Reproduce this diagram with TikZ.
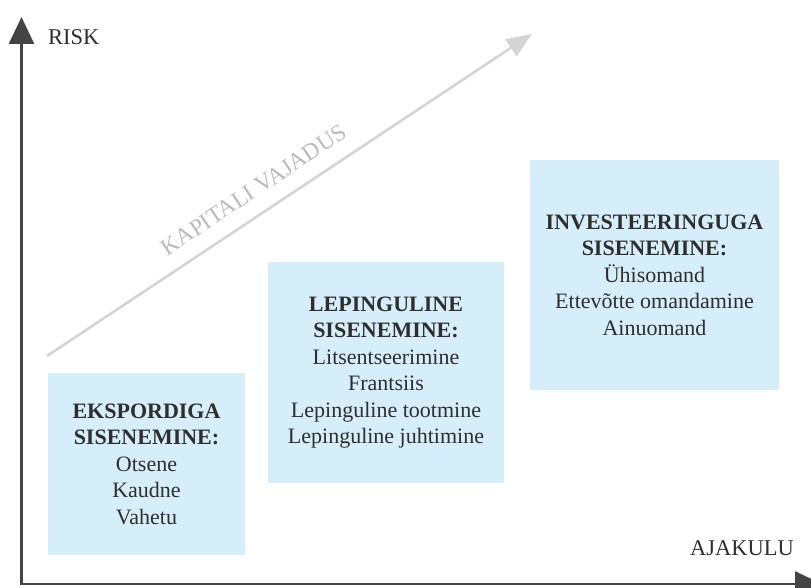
\documentclass[tikz,border=0pt]{standalone}
\usepackage{fontspec}
\setmainfont{Liberation Serif}
\usetikzlibrary{arrows.meta,calc}
\definecolor{axisgray}{HTML}{444444}
\definecolor{txtgray}{HTML}{2E2E2E}
\definecolor{boxblue}{HTML}{D6EEFA}
\definecolor{diaggray}{HTML}{D4D4D4}
\definecolor{labgray}{HTML}{BBBBBB}
\tikzset{
  axisline/.style={draw=axisgray, line width=2.6pt, -{Triangle[length=27pt,width=25pt]}},
  diagline/.style={draw=diaggray, line width=2.6pt, -{Triangle[length=25pt,width=20pt]}},
  entrybox/.style={fill=boxblue, draw=none, inner sep=0pt, align=center, text=txtgray,
    font=\fontsize{22}{26.5}\selectfont},
  axislabel/.style={text=txtgray, font=\fontsize{22.5}{26}\selectfont, inner sep=0pt, anchor=base west},
}
\begin{document}
\begin{tikzpicture}[x=1pt,y=-1pt]
\useasboundingbox[fill=white] (0,0) rectangle (811,588);
% axes
\coordinate (O) at (21.5,584);
\coordinate (ytop) at (21.5,17);
\coordinate (xend) at (822,584);
\draw[axisline] ($(O)+(0,1.3)$) -- (ytop);
\draw[axisline] ($(O)+(-1.3,0)$) -- (xend);
\node[axislabel] (risk) at (48,45) {RISK};
\node[axislabel] (ajakulu) at (690,555) {AJAKULU};
% capital requirement arrow
\coordinate (ds) at (47,356);
\coordinate (dt) at (531.7,34);
\draw[diagline] (ds) -- coordinate[pos=0.454] (dm) (dt);
\node[rotate=33.6, text=labgray, inner sep=0pt, font=\fontsize{23.5}{26}\selectfont]
  (kv) at ($(dm)+(-13.3,-20)$) {KAPITALI VAJADUS};
% boxes
\node[entrybox, minimum width=197pt, minimum height=182pt] (b1) at (146.5,464)
  {\textbf{EKSPORDIGA}\\\textbf{SISENEMINE:}\\Otsene\\Kaudne\\Vahetu};
\node[entrybox, minimum width=236pt, minimum height=221pt] (b2) at (386,372.5)
  {\textbf{LEPINGULINE}\\\textbf{SISENEMINE:}\\Litsentseerimine\\Frantsiis\\Lepinguline tootmine\\Lepinguline juhtimine};
\node[entrybox, minimum width=249pt, minimum height=230pt] (b3) at (654.5,275)
  {\textbf{INVESTEERINGUGA}\\\textbf{SISENEMINE:}\\Ühisomand\\Ettevõtte omandamine\\Ainuomand};
\end{tikzpicture}
\end{document}
